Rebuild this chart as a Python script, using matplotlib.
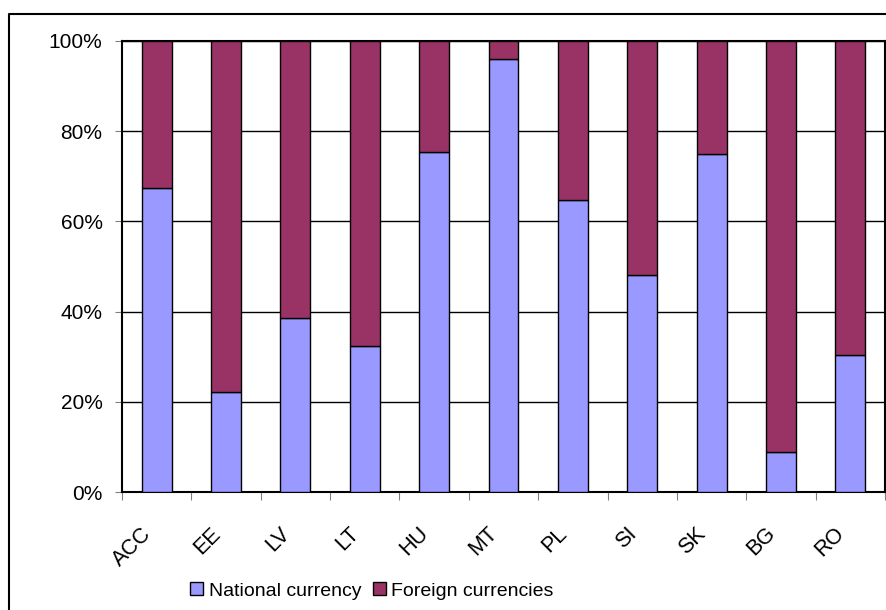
import numpy as np
import matplotlib.pyplot as plt
import matplotlib.transforms as mtransforms
from matplotlib.lines import Line2D

plt.rcParams['font.family'] = ['Liberation Sans', 'DejaVu Sans']

countries = ['ACC', 'EE', 'LV', 'LT', 'HU', 'MT', 'PL', 'SI', 'SK', 'BG', 'RO']
national = np.array([67.3, 22.2, 38.5, 32.4, 75.4, 95.9, 64.7, 48.1, 75.0, 8.8, 30.4])
foreign = 100 - national

blue = '#9999FF'
maroon = '#993366'

fig = plt.figure(figsize=(8.87, 6.10), dpi=100)
ax = fig.add_axes([122/887, 118/610, 763/887, 451/610])

x = np.arange(len(countries))
w = 0.43
ax.bar(x, national, w, color=blue, edgecolor='black', linewidth=1.0,
       label='National currency', zorder=3)
ax.bar(x, foreign, w, bottom=national, color=maroon, edgecolor='black',
       linewidth=1.0, label='Foreign currencies', zorder=3)

ax.set_xlim(-0.5, len(countries) - 0.5)
ax.set_ylim(0, 100)

# y axis
ax.set_yticks([0, 20, 40, 60, 80, 100])
ax.set_yticklabels(['0%', '20%', '40%', '60%', '80%', '100%'], fontsize=15)
ax.tick_params(axis='y', length=5, color='#808080', pad=9)
ax.yaxis.grid(True, color='black', linewidth=1.0, zorder=0)

# x axis: ticks between categories, labels at centers
ax.set_xticks(np.arange(-0.5, len(countries)), labels=[''] * (len(countries) + 1))
ax.set_xticks(x, labels=countries, minor=True)
ax.tick_params(axis='x', which='major', length=6, color='#808080')
ax.tick_params(axis='x', which='minor', length=0, pad=22, labelsize=15.5)
shift = mtransforms.ScaledTranslation(-0.09, -0.08, fig.dpi_scale_trans)
for lab in ax.get_xticklabels(minor=True):
    lab.set_rotation(45)
    lab.set_ha('right')
    lab.set_rotation_mode('anchor')
    lab.set_va('center')
    lab.set_transform(lab.get_transform() + shift)

for s in ax.spines.values():
    s.set_color('black')
    s.set_linewidth(1.5)

leg = fig.legend(loc='center', bbox_to_anchor=(372/887, 19/610), ncol=2,
                 frameon=False, fontsize=14, handlelength=0.65, handleheight=0.65,
                 handletextpad=0.3, columnspacing=0.6)

# outer chart frame
fig.add_artist(Line2D([9/887, 9/887, 1.0], [0.0, 1 - 14/610, 1 - 14/610],
                      transform=fig.transFigure, color='black', linewidth=1.5))

fig.savefig('out.png', dpi=100)
